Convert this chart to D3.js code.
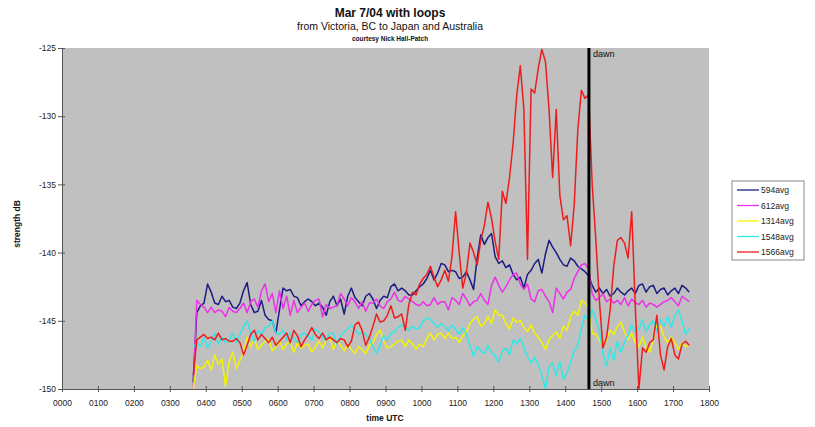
<!DOCTYPE html>
<html><head><meta charset="utf-8">
<script src="https://cdn.jsdelivr.net/npm/d3@7"></script>
<style>
body{margin:0;background:#fff;}
svg text{font-family:"Liberation Sans",Arial,sans-serif;}
</style>
</head><body>
<svg id="c" width="815" height="427"></svg>
<script>
// ---- data ----
const seriesNames = ["594avg", "612avg", "1314avg", "1548avg", "1566avg"];
const seriesColors = ["#1c1c82", "#ec30ec", "#f4f400", "#30e8e8", "#ee1c1c"];
const xTickLabels = ["0000","0100","0200","0300","0400","0500","0600","0700","0800","0900","1000","1100","1200","1300","1400","1500","1600","1700","1800"];
const yTickValues = [-150, -145, -140, -135, -130, -125];
const sampleStartHour = 3.65;   // first sample time (hours UTC)
const sampleStepHour = 0.1;     // sample spacing (hours)
const dawnHour = 14.66;

const v594 = [
-149.5,-144.4,-143.9,-143.7,-142.3,-142.9,-143.7,-143.8,-143.2,-143.6,
-143.5,-144.0,-144.1,-143.7,-142.8,-142.2,-143.8,-144.4,-144.3,-143.5,
-144.6,-144.9,-145.0,-145.9,-144.2,-142.6,-142.8,-142.7,-143.2,-143.3,
-143.9,-143.6,-143.4,-143.6,-143.9,-143.7,-144.0,-144.6,-143.6,-143.2,
-143.9,-143.4,-144.5,-143.2,-142.6,-143.3,-143.6,-143.9,-143.2,-143.0,
-143.4,-144.1,-143.5,-143.2,-143.3,-142.5,-142.3,-142.8,-142.6,-142.8,
-143.1,-143.1,-142.8,-142.5,-142.3,-141.9,-141.3,-142.0,-141.5,-140.8,
-140.9,-141.4,-141.3,-141.4,-141.9,-141.8,-141.4,-142.0,-142.7,-140.4,
-138.7,-139.4,-138.9,-138.6,-140.3,-140.8,-140.6,-141.1,-140.9,-141.6,
-142.0,-141.8,-142.6,-141.6,-141.3,-140.8,-140.5,-141.5,-140.1,-139.1,
-139.6,-140.0,-140.5,-140.9,-141.0,-140.4,-140.6,-141.0,-141.2,-141.4,
-141.7,-142.4,-142.9,-142.6,-143.0,-142.7,-143.2,-143.0,-142.6,-142.9,
-143.1,-142.8,-142.6,-143.0,-142.4,-142.3,-142.9,-142.5,-142.4,-143.0,
-142.7,-142.6,-143.1,-142.8,-142.6,-143.0,-142.4,-142.6,-142.9];

const v612 = [
-150.0,-143.5,-143.8,-144.0,-144.4,-144.0,-144.4,-144.2,-144.3,-144.7,
-144.0,-144.3,-144.4,-144.1,-143.7,-144.4,-143.6,-143.4,-144.0,-142.8,
-142.3,-143.6,-143.0,-144.4,-142.8,-144.1,-143.2,-144.6,-143.5,-144.4,
-144.0,-143.7,-144.3,-143.8,-143.5,-143.4,-144.7,-143.8,-144.1,-144.0,
-143.9,-143.0,-143.4,-143.9,-143.3,-143.6,-144.1,-143.6,-144.3,-143.7,
-143.7,-143.4,-143.9,-144.1,-143.6,-143.4,-142.9,-143.5,-143.6,-143.2,
-143.4,-143.6,-143.8,-143.9,-143.6,-143.9,-143.8,-143.3,-143.8,-143.6,
-143.6,-144.2,-143.3,-143.5,-143.8,-143.0,-143.4,-143.9,-143.6,-143.5,
-143.0,-143.5,-143.8,-142.4,-141.8,-142.4,-142.9,-142.5,-142.0,-141.6,
-141.5,-142.3,-142.7,-142.3,-143.4,-143.6,-142.8,-142.7,-143.2,-143.6,
-144.4,-142.6,-143.0,-143.4,-142.9,-142.7,-141.9,-141.4,-140.9,-140.8,
-141.2,-143.0,-143.5,-143.3,-143.0,-143.6,-143.4,-143.7,-143.5,-143.8,
-143.3,-143.9,-143.4,-143.7,-143.8,-143.5,-144.0,-143.7,-143.8,-144.0,
-143.8,-143.6,-143.5,-143.3,-143.6,-143.9,-143.2,-143.4,-143.6];

const v1314 = [
-150.0,-148.3,-148.5,-148.4,-147.9,-148.6,-147.5,-148.2,-147.8,-149.8,
-148.0,-147.3,-148.5,-147.9,-147.3,-146.2,-146.9,-146.3,-147.1,-146.8,
-146.5,-146.4,-147.2,-146.9,-146.5,-147.1,-146.7,-146.5,-147.3,-146.6,
-147.0,-146.8,-146.7,-147.3,-146.9,-146.5,-147.0,-146.4,-146.2,-147.1,
-146.5,-146.8,-147.2,-146.7,-147.1,-147.4,-146.9,-147.1,-147.4,-146.8,
-146.6,-146.0,-145.7,-146.5,-147.0,-146.9,-146.7,-146.5,-146.4,-146.9,
-146.4,-146.7,-147.1,-146.7,-146.9,-146.3,-145.9,-146.4,-146.0,-145.9,
-146.3,-145.9,-146.3,-146.2,-146.6,-146.1,-145.8,-145.2,-144.9,-144.7,
-145.4,-145.2,-144.7,-145.2,-144.2,-144.6,-144.6,-145.2,-145.6,-144.8,
-145.1,-145.0,-145.5,-145.8,-145.3,-145.9,-146.2,-146.6,-147.1,-146.4,
-146.1,-145.8,-146.3,-145.4,-145.7,-144.7,-144.3,-144.6,-143.5,-143.7,
-144.0,-145.9,-146.0,-146.4,-146.9,-146.4,-145.7,-146.0,-145.4,-145.1,
-145.8,-146.4,-145.9,-146.6,-146.9,-146.2,-146.9,-147.3,-146.4,-145.3,
-145.4,-146.2,-146.6,-146.2,-146.6,-147.1,-146.6,-146.9,-146.7];

const v1548 = [
-147.0,-146.6,-146.9,-146.2,-147.0,-146.5,-145.9,-146.7,-146.2,-146.6,
-146.4,-145.9,-146.6,-146.0,-145.4,-145.0,-145.9,-146.5,-145.7,-146.0,
-145.5,-145.4,-145.0,-145.9,-146.0,-145.7,-146.4,-145.9,-146.3,-146.6,
-146.0,-145.9,-146.1,-146.4,-145.6,-145.8,-146.2,-146.4,-145.9,-145.9,
-146.7,-146.1,-145.8,-145.6,-145.3,-145.6,-146.0,-145.8,-146.0,-146.3,
-146.9,-147.4,-146.8,-146.1,-146.4,-145.9,-145.8,-145.5,-145.3,-145.5,
-145.7,-145.4,-145.6,-145.5,-145.0,-144.8,-144.9,-145.2,-145.5,-145.2,
-145.4,-145.7,-145.3,-145.6,-146.0,-145.5,-146.0,-146.8,-147.6,-146.9,
-147.2,-147.4,-146.8,-147.3,-147.6,-148.0,-147.2,-147.0,-147.5,-146.4,
-146.7,-146.3,-146.9,-147.6,-148.1,-147.7,-148.2,-149.0,-150.0,-148.4,
-148.1,-149.0,-148.0,-149.3,-148.8,-148.0,-147.2,-146.8,-145.6,-144.6,
-145.0,-144.2,-144.9,-145.7,-147.4,-148.3,-147.0,-147.9,-146.5,-147.3,
-146.6,-146.0,-145.3,-145.8,-145.6,-144.9,-145.8,-145.3,-145.0,-145.8,
-144.9,-145.4,-144.7,-145.5,-144.6,-144.2,-145.0,-146.0,-145.6];

const v1566 = [
-149.0,-146.4,-146.2,-146.0,-146.3,-146.2,-146.4,-145.9,-146.4,-146.3,
-146.5,-146.5,-146.3,-146.6,-147.5,-146.8,-146.0,-145.7,-146.4,-146.0,
-146.3,-146.6,-146.2,-146.8,-146.5,-146.2,-145.9,-146.6,-145.7,-146.1,
-146.9,-146.4,-146.0,-145.5,-146.0,-146.3,-145.9,-146.4,-146.2,-146.4,
-146.6,-146.3,-146.4,-146.9,-146.5,-145.3,-145.1,-145.7,-146.8,-146.2,
-145.4,-144.5,-145.1,-145.0,-144.6,-143.9,-144.8,-144.7,-144.5,-145.7,
-143.8,-142.9,-143.1,-142.3,-141.9,-141.6,-141.0,-141.8,-142.5,-142.0,
-141.3,-142.1,-140.3,-137.0,-140.0,-142.6,-141.5,-139.3,-140.0,-140.9,
-139.1,-138.0,-136.3,-137.5,-139.2,-140.5,-135.5,-136.4,-134.5,-132.0,
-128.5,-126.3,-129.5,-140.5,-128.0,-128.3,-126.5,-125.1,-126.0,-129.5,
-134.5,-129.5,-135.8,-137.6,-137.3,-139.5,-136.5,-131.0,-128.1,-128.7,
-128.4,-135.0,-139.0,-143.5,-147.0,-146.2,-144.2,-141.0,-139.1,-138.9,
-139.3,-140.4,-137.0,-144.0,-150.0,-147.0,-147.3,-146.6,-146.4,-144.6,
-147.5,-148.6,-146.9,-146.3,-147.5,-147.8,-146.7,-146.5,-146.8];

const seriesValues = [v594, v612, v1314, v1548, v1566];

// ---- chart ----
const svg = d3.select("#c");
const plot = {left: 62, right: 709, top: 48, bottom: 389};
const x = d3.scaleLinear().domain([0, 18]).range([plot.left, plot.right]);
const y = d3.scaleLinear().domain([-150, -125]).range([plot.bottom, plot.top]);

svg.append("rect").attr("x", 0).attr("y", 0).attr("width", 815).attr("height", 427).attr("fill", "#fff");
svg.append("rect").attr("x", plot.left).attr("y", plot.top)
  .attr("width", plot.right - plot.left).attr("height", plot.bottom - plot.top)
  .attr("fill", "#c0c0c0");

svg.append("defs").append("clipPath").attr("id", "clip")
  .append("rect").attr("x", plot.left).attr("y", plot.top)
  .attr("width", plot.right - plot.left).attr("height", plot.bottom - plot.top + 1);

const line = d3.line()
  .x((d, i) => x(sampleStartHour + i * sampleStepHour))
  .y(d => y(d));

const g = svg.append("g").attr("clip-path", "url(#clip)");
seriesValues.forEach((vals, k) => {
  g.append("path").datum(vals)
    .attr("fill", "none")
    .attr("stroke", seriesColors[k])
    .attr("stroke-width", 1.5)
    .attr("stroke-linejoin", "round")
    .attr("d", line);
});

// dawn line
svg.append("line")
  .attr("x1", x(dawnHour)).attr("x2", x(dawnHour))
  .attr("y1", y(-125)).attr("y2", y(-150))
  .attr("stroke", "#000").attr("stroke-width", 3);
svg.append("text").attr("x", x(dawnHour) + 4).attr("y", y(-125) + 9)
  .attr("font-size", 9).attr("fill", "#111").text("dawn");
svg.append("text").attr("x", x(dawnHour) + 4).attr("y", y(-150) - 3)
  .attr("font-size", 9).attr("fill", "#111").text("dawn");

// axes
const xAxis = d3.axisBottom(x)
  .tickValues(d3.range(0, 19))
  .tickFormat((d, i) => xTickLabels[i])
  .tickSize(0);
const xg = svg.append("g").attr("transform", `translate(0,${plot.bottom})`).call(xAxis);
xg.select(".domain").attr("stroke", "#555");
xg.selectAll(".tick line").attr("y1", -3).attr("y2", 3).attr("stroke", "#555");
xg.selectAll(".tick text").attr("y", 11).attr("font-size", 8.5).attr("fill", "#222")
  .attr("font-family", "'Liberation Sans', Arial, sans-serif");

const yAxis = d3.axisLeft(y)
  .tickValues(yTickValues)
  .tickFormat(d => String(d))
  .tickSize(0);
const yg = svg.append("g").attr("transform", `translate(${plot.left},0)`).call(yAxis);
yg.select(".domain").attr("stroke", "#555");
yg.selectAll(".tick line").attr("x1", -4).attr("x2", 3).attr("stroke", "#555");
yg.selectAll(".tick text").attr("x", -6).attr("font-size", 8.5).attr("fill", "#222")
  .attr("font-family", "'Liberation Sans', Arial, sans-serif");

// titles
svg.append("text").attr("x", 390).attr("y", 17).attr("text-anchor", "middle")
  .attr("font-size", 12).attr("font-weight", "bold").attr("fill", "#111").text("Mar 7/04 with loops");
svg.append("text").attr("x", 390).attr("y", 30).attr("text-anchor", "middle")
  .attr("font-size", 10.5).attr("fill", "#111").text("from Victoria, BC to Japan and Australia");
svg.append("text").attr("x", 390).attr("y", 41).attr("text-anchor", "middle")
  .attr("font-size", 6.5).attr("font-weight", "bold").attr("fill", "#111").text("courtesy Nick Hall-Patch");

svg.append("text").attr("x", 385).attr("y", 421).attr("text-anchor", "middle")
  .attr("font-size", 8.5).attr("font-weight", "bold").attr("fill", "#111").text("time UTC");
svg.append("text").attr("transform", "translate(20,224) rotate(-90)").attr("text-anchor", "middle")
  .attr("font-size", 8.5).attr("font-weight", "bold").attr("fill", "#111").text("strength dB");

// legend
const lg = svg.append("g").attr("transform", "translate(732,181)");
lg.append("rect").attr("width", 72).attr("height", 79).attr("fill", "#fff").attr("stroke", "#888");
seriesNames.forEach((n, k) => {
  const yy = 9 + k * 15.5;
  lg.append("line").attr("x1", 5).attr("x2", 27).attr("y1", yy).attr("y2", yy)
    .attr("stroke", seriesColors[k]).attr("stroke-width", 1.3);
  lg.append("text").attr("x", 29).attr("y", yy + 3).attr("font-size", 8.5).attr("fill", "#222").text(n);
});
</script>
</body></html>
